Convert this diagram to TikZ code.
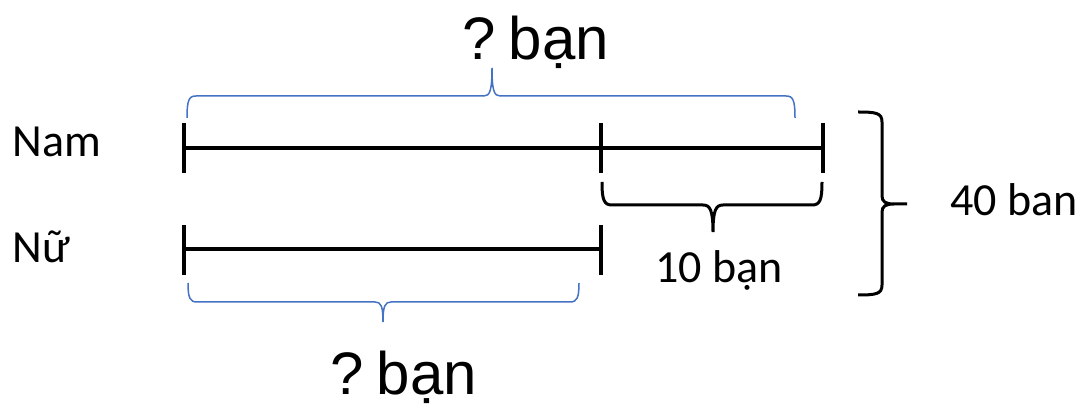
\documentclass[tikz,border=0pt]{standalone}
\usepackage{fontspec}
\setmainfont{Carlito}
\newfontfamily\qfont{Liberation Sans}
\usepackage{tikz}
\definecolor{braceblue}{RGB}{68,114,196}
\tikzset{
  seg/.style={line width=2pt},
  blackbrace/.style={line width=1.5pt},
  bluebrace/.style={line width=0.75pt, color=braceblue},
  lbl/.style={inner sep=0pt, font=\fontsize{23}{27}\selectfont},
  qlbl/.style={inner sep=0pt, font=\qfont\fontsize{30}{36}\selectfont}
}

\begin{document}
\begin{tikzpicture}[x=0.5pt, y=-0.5pt]
			%%%%% START %%%%%
			\useasboundingbox (0, 0) rectangle (1082, 405);
			
			% Nam
			\node[lbl, anchor=base west] (nam) at (12, 157) {Nam};
			\draw[seg] (184, 148) -- (823, 148);
			\draw[seg] (184, 123) -- (184, 173);
			\draw[seg] (601, 123) -- (601, 173);
			\draw[seg] (823, 123) -- (823, 173);
			
			% Nu
			\node[lbl, anchor=base west] (nu) at (12, 263) {Nữ};
			\draw[seg] (184, 249) -- (601, 249);
			\draw[seg] (184, 225) -- (184, 275);
			\draw[seg] (601, 225) -- (601, 275);
			
			% top brace
			\draw[bluebrace] (187, 118) .. controls (187, 100) and (189, 96) .. (196, 96) -- (484, 96)
			  .. controls (490, 96) and (492, 90) .. (492, 68)
			  .. controls (492, 90) and (494, 96) .. (500, 96) -- (786, 96)
			  .. controls (793, 96) and (795, 100) .. (795, 118);
			\node[qlbl, anchor=base] (nam-q) at (536, 60) {?\hspace{0.21em}bạn};
			
			% bottom brace
			\draw[bluebrace] (188, 283) .. controls (188, 298) and (190, 302) .. (197, 302) -- (375, 302)
			  .. controls (381, 302) and (383, 306) .. (383, 322)
			  .. controls (383, 306) and (385, 302) .. (391, 302) -- (570, 302)
			  .. controls (577, 302) and (579, 298) .. (579, 283);
			\node[qlbl, anchor=base] (nu-q) at (404, 395) {?\hspace{0.21em}bạn};
			
			% difference
			\draw[blackbrace] (602, 182) .. controls (602, 200) and (604, 205) .. (612, 205) -- (703, 205)
			  .. controls (710, 205) and (713, 210) .. (713, 232)
			  .. controls (713, 210) and (716, 205) .. (723, 205) -- (812, 205)
			  .. controls (820, 205) and (822, 200) .. (822, 182);
			\node[lbl, anchor=base] (diff) at (719, 283) {10 bạn};
			
			% total
			\draw[blackbrace] (858, 112) .. controls (876, 112) and (882, 113) .. (882, 122) -- (882, 196)
			  .. controls (882, 202) and (886, 204) .. (894, 204) -- (907, 204) -- (894, 204)
			  .. controls (886, 204) and (882, 206) .. (882, 212) -- (882, 285)
			  .. controls (882, 294) and (876, 295) .. (858, 295);
			\node[lbl, anchor=base west] (total) at (950, 216) {40 ban};
			%%%%% END %%%%%
\end{tikzpicture}
\end{document}
